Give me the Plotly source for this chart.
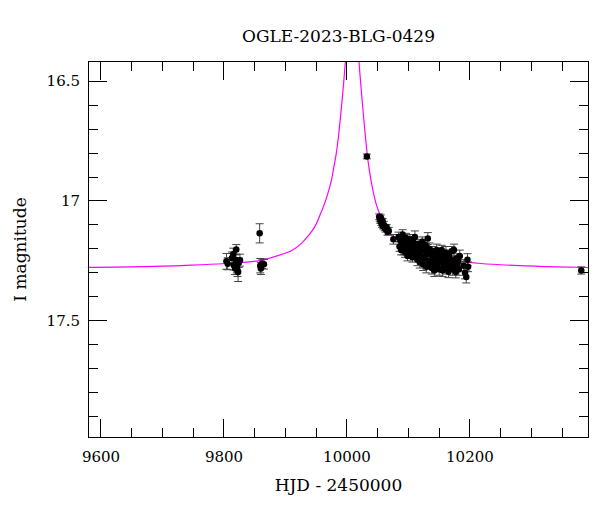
import plotly.graph_objects as go

# Model curve
model_t = [9560, 9585.6, 9650, 9700, 9747.7, 9801.6, 9855.8, 9875, 9893.5, 9909.7, 9925.9, 9937,
           9947.5, 9956, 9963.7, 9969, 9974.6, 9978.5, 9982.7, 9986, 9989.6, 9992.5, 9995.1,
           9997.7, 10000,
           10018, 10019.4, 10023.2, 10028.5, 10034.0, 10038, 10042.1, 10047, 10052.8, 10059,
           10066.5, 10074, 10082.7, 10095, 10109, 10135, 10163.7, 10190, 10217.7, 10280,
           10340, 10400]
model_mag = [17.279, 17.277, 17.275, 17.272, 17.268, 17.261, 17.250, 17.238, 17.223, 17.208, 17.177, 17.146,
             17.108, 17.060, 17.010, 16.968, 16.915, 16.862, 16.800, 16.735, 16.647, 16.568, 16.493,
             16.409, 16.320,
             16.330, 16.409, 16.535, 16.689, 16.828, 16.897, 16.954, 17.008, 17.052, 17.092,
             17.122, 17.146, 17.163, 17.176, 17.190, 17.216, 17.240, 17.253, 17.261, 17.270,
             17.275, 17.278]

# Photometry: HJD-2450000, I mag, error
obs_t = [9804, 9806, 9813, 9815, 9816, 9818, 9819, 9820, 9821, 9822, 9823, 9824, 9826,
         9858, 9859, 9860, 9862, 9865,
         10032.4,
         10052.5, 10053.5, 10054.5, 10055, 10056, 10057, 10058, 10059, 10060, 10061.5,
         10063, 10064.5, 10066, 10068, 10075.5,
         10084, 10085.5, 10087, 10088, 10089, 10090.5, 10092, 10093, 10094.5, 10096,
         10097, 10098.5, 10100, 10101, 10102.5, 10104, 10105, 10106.5, 10108, 10109,
         10110.5, 10112, 10113, 10114.5, 10116, 10117, 10118.5, 10120, 10121, 10122.5,
         10124, 10125, 10126.5, 10128, 10129, 10130.5, 10131.5, 10133, 10134, 10135.5,
         10137, 10138, 10139.5, 10141, 10142, 10143.5, 10145, 10146, 10147.5, 10149,
         10150, 10151.5, 10153, 10154, 10155.5, 10157, 10158, 10159.5, 10161, 10162,
         10163.5, 10165, 10166, 10167.5, 10169, 10170, 10171.5, 10173, 10174, 10175.5,
         10177, 10178, 10179.5, 10181, 10182, 10183.5, 10190, 10192, 10194, 10196, 10197,
         10381]
obs_mag = [17.252, 17.262, 17.238, 17.222, 17.268, 17.282, 17.245, 17.202, 17.275, 17.290, 17.296, 17.258, 17.247,
           17.135, 17.270, 17.282, 17.262, 17.264,
           16.814,
           17.066, 17.075, 17.082, 17.070, 17.090, 17.098, 17.085, 17.105, 17.100, 17.112,
           17.118, 17.110, 17.128, 17.125, 17.160,
           17.150, 17.190, 17.165, 17.205, 17.175, 17.140, 17.200, 17.170, 17.215, 17.155,
           17.190, 17.230, 17.175, 17.200, 17.160, 17.220, 17.185, 17.235, 17.170, 17.205,
           17.150, 17.225, 17.190, 17.245, 17.180, 17.210, 17.255, 17.195, 17.230, 17.170,
           17.265, 17.205, 17.240, 17.185, 17.275, 17.220, 17.157, 17.250, 17.200, 17.265,
           17.225, 17.280, 17.210, 17.245, 17.290, 17.225, 17.260, 17.205, 17.275, 17.240,
           17.285, 17.220, 17.255, 17.205, 17.290, 17.235, 17.270, 17.245, 17.215, 17.280,
           17.250, 17.295, 17.230, 17.265, 17.245, 17.210, 17.285, 17.255, 17.205, 17.270,
           17.296, 17.240, 17.265, 17.250, 17.285, 17.230, 17.270, 17.300, 17.317, 17.245, 17.275,
           17.290]
obs_err = [0.033, 0.025, 0.025, 0.025, 0.020, 0.025, 0.020, 0.020, 0.025, 0.025, 0.040, 0.020, 0.025,
           0.040, 0.030, 0.025, 0.020, 0.020,
           0.010,
           0.012, 0.012, 0.012, 0.012, 0.012, 0.012, 0.012, 0.012, 0.015, 0.012,
           0.012, 0.012, 0.015, 0.015, 0.020,
           0.020, 0.020, 0.025, 0.020, 0.020, 0.020, 0.025, 0.020, 0.020, 0.020,
           0.025, 0.020, 0.020, 0.025, 0.020, 0.020, 0.025, 0.020, 0.020, 0.020,
           0.025, 0.020, 0.020, 0.025, 0.020, 0.020, 0.025, 0.020, 0.025, 0.020,
           0.025, 0.020, 0.020, 0.025, 0.025, 0.020, 0.025, 0.020, 0.025, 0.020,
           0.020, 0.025, 0.020, 0.025, 0.025, 0.020, 0.020, 0.025, 0.020, 0.025,
           0.025, 0.020, 0.025, 0.020, 0.025, 0.020, 0.025, 0.020, 0.025, 0.025,
           0.020, 0.025, 0.020, 0.025, 0.025, 0.020, 0.025, 0.020, 0.025, 0.020,
           0.025, 0.020, 0.025, 0.020, 0.025, 0.025, 0.025, 0.025, 0.025, 0.025, 0.020,
           0.015]

title_text = "OGLE-2023-BLG-0429"
x_title = "HJD - 2450000"
y_title = "I magnitude"
x_ticks = [9600, 9800, 10000, 10200]
y_ticks = [16.5, 17, 17.5]
y_ticklabels = ["16.5", "17", "17.5"]

FONT = "DejaVu Serif"

fig = go.Figure()
fig.add_trace(go.Scatter(
    x=model_t, y=model_mag, mode="lines",
    line=dict(color="#ff00ff", width=1.2, shape="spline", smoothing=1.0),
    hoverinfo="skip", showlegend=False))
fig.add_trace(go.Scatter(
    x=obs_t, y=obs_mag, mode="markers",
    marker=dict(color="black", size=6.5),
    error_y=dict(type="data", array=obs_err, visible=True, color="#444444", thickness=1, width=4),
    showlegend=False))

axis_common = dict(
    showgrid=False, zeroline=False, showline=True, linecolor="black", linewidth=1,
    mirror="allticks", ticks="inside", ticklen=18, tickwidth=1, tickcolor="black",
    tickfont=dict(family=FONT, size=15, color="black"),
)

fig.update_layout(
    width=600, height=512,
    paper_bgcolor="white", plot_bgcolor="white",
    margin=dict(l=79, r=20, t=54, b=83),
    title=dict(text=title_text, x=0.5, xref="paper", xanchor="center", y=1 - 28/512, yanchor="middle",
               font=dict(family=FONT, size=17, color="black")),
    xaxis=dict(range=[9580.5, 10392], tickmode="array", tickvals=x_ticks, tickformat="d",
               ticklabelstandoff=6,
               minor=dict(dtick=50, tick0=9600, ticks="inside", ticklen=9, tickcolor="black", showgrid=False),
               title=dict(text=x_title, font=dict(family=FONT, size=17, color="black"), standoff=14),
               **axis_common),
    yaxis=dict(range=[17.985, 16.42], tickmode="array", tickvals=y_ticks, ticktext=y_ticklabels,
               ticklabelstandoff=5,
               minor=dict(dtick=0.1, tick0=16.5, ticks="inside", ticklen=9, tickcolor="black", showgrid=False),
               title=dict(text=y_title, font=dict(family=FONT, size=17, color="black"), standoff=15),
               **axis_common),
)

fig.write_html("out.html")
